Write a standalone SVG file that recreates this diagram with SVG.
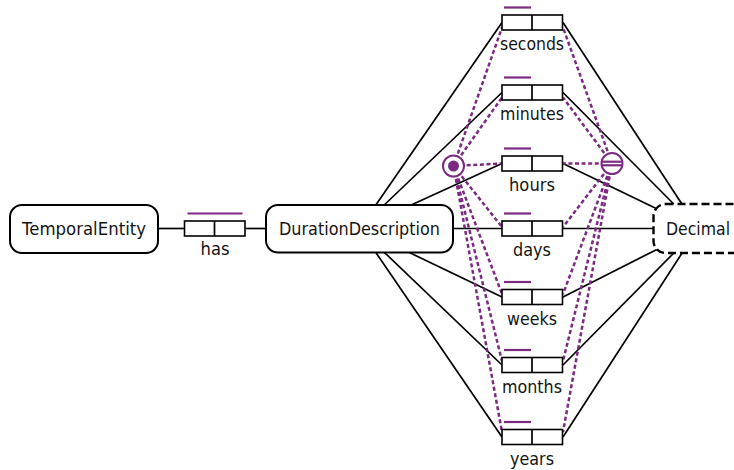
<svg xmlns="http://www.w3.org/2000/svg" width="734" height="470" viewBox="0 0 734 470">
  <style>
    .ent { fill: #fff; stroke: #000; stroke-width: 2; }
    .val { fill: #fff; stroke: #000; stroke-width: 2.4; stroke-dasharray: 8 4; }
    .role { fill: #fff; stroke: #000; stroke-width: 1.6; }
    .link { stroke: #000; stroke-width: 1.7; fill: none; }
    .cons { stroke: #7b2a82; stroke-width: 2.5; stroke-dasharray: 4 2.6; fill: none; }
    .bar { stroke: #7b2a82; stroke-width: 2.2; }
    .ring { fill: #fff; stroke: #7b2a82; stroke-width: 2; }
    .lbl { font-family: "DejaVu Sans", "Liberation Sans", sans-serif; font-size: 18px; fill: #141414; text-anchor: middle; }
  </style>
  <defs>
    <!-- binary fact type: two role boxes with a divider -->
    <g id="roles">
      <rect class="role" x="0" y="0" width="60.5" height="15"/>
      <line class="link" x1="30" y1="0" x2="30" y2="15"/>
    </g>
  </defs>

  <!-- connectors -->
  <g id="connectors">
    <!-- entity links -->
    <line class="link" x1="158" y1="228.5" x2="184.5" y2="228.5"/>
    <line class="link" x1="245.5" y1="228.5" x2="266" y2="228.5"/>
    <!-- DurationDescription to each role -->
    <line class="link" x1="375.8" y1="205" x2="502" y2="22.5"/>
    <line class="link" x1="384.2" y1="205" x2="502" y2="92.5"/>
    <line class="link" x1="411.2" y1="205" x2="502" y2="163.5"/>
    <line class="link" x1="452.7" y1="228.5" x2="502" y2="228.5"/>
    <line class="link" x1="408.9" y1="252.3" x2="502" y2="297"/>
    <line class="link" x1="384.3" y1="252.3" x2="502" y2="365"/>
    <line class="link" x1="375.7" y1="252.3" x2="502" y2="437"/>
    <!-- roles to Decimal -->
    <line class="link" x1="563" y1="22.5" x2="681.9" y2="204"/>
    <line class="link" x1="563" y1="92.5" x2="673.7" y2="204"/>
    <line class="link" x1="563" y1="163.5" x2="656.2" y2="208.4"/>
    <line class="link" x1="563" y1="228.5" x2="653.5" y2="228.5"/>
    <line class="link" x1="563" y1="297" x2="656.9" y2="249.4"/>
    <line class="link" x1="563" y1="365" x2="673.8" y2="253"/>
    <line class="link" x1="563" y1="437" x2="682.1" y2="253"/>
    <!-- inclusive-or constraint -->
    <line class="cons" x1="453.5" y1="166" x2="502" y2="27.5"/>
    <line class="cons" x1="453.5" y1="166" x2="502" y2="97.5"/>
    <line class="cons" x1="453.5" y1="166" x2="502" y2="163.5"/>
    <line class="cons" x1="453.5" y1="166" x2="502" y2="227"/>
    <line class="cons" x1="453.5" y1="166" x2="502" y2="294"/>
    <line class="cons" x1="453.5" y1="166" x2="502" y2="361"/>
    <line class="cons" x1="453.5" y1="166" x2="502" y2="432"/>
    <!-- equality constraint -->
    <line class="cons" x1="612" y1="163.5" x2="563" y2="27.5"/>
    <line class="cons" x1="612" y1="163.5" x2="563" y2="97.5"/>
    <line class="cons" x1="612" y1="163.5" x2="563" y2="163.5"/>
    <line class="cons" x1="612" y1="163.5" x2="563" y2="227"/>
    <line class="cons" x1="612" y1="163.5" x2="563" y2="294"/>
    <line class="cons" x1="612" y1="163.5" x2="563" y2="361"/>
    <line class="cons" x1="612" y1="163.5" x2="563" y2="432"/>
  </g>

  <!-- entity types -->
  <g id="TemporalEntity">
    <rect class="ent" x="10" y="205" width="148" height="48" rx="12"/>
    <text class="lbl" x="84" y="235" textLength="124" lengthAdjust="spacingAndGlyphs">TemporalEntity</text>
  </g>
  <g id="DurationDescription">
    <rect class="ent" x="266" y="205" width="187" height="47.5" rx="12"/>
    <text class="lbl" x="359.5" y="235" textLength="161" lengthAdjust="spacingAndGlyphs">DurationDescription</text>
  </g>
  <g id="Decimal">
    <rect class="val" x="653.5" y="204" width="100" height="49" rx="12"/>
    <text class="lbl" x="698" y="235" textLength="64" lengthAdjust="spacingAndGlyphs">Decimal</text>
  </g>

  <!-- fact types -->
  <g id="has">
    <use href="#roles" x="184.5" y="221"/>
    <line class="bar" x1="187.5" y1="213.5" x2="242.5" y2="213.5"/>
    <text class="lbl" x="215" y="255" textLength="29" lengthAdjust="spacingAndGlyphs">has</text>
  </g>
  <g id="seconds">
    <use href="#roles" x="502" y="15"/>
    <line class="bar" x1="504" y1="7.5" x2="531" y2="7.5"/>
    <text class="lbl" x="532" y="50" textLength="64" lengthAdjust="spacingAndGlyphs">seconds</text>
  </g>
  <g id="minutes">
    <use href="#roles" x="502" y="85"/>
    <line class="bar" x1="504" y1="77.5" x2="531" y2="77.5"/>
    <text class="lbl" x="532" y="120" textLength="64" lengthAdjust="spacingAndGlyphs">minutes</text>
  </g>
  <g id="hours">
    <use href="#roles" x="502" y="156"/>
    <line class="bar" x1="504" y1="148.5" x2="531" y2="148.5"/>
    <text class="lbl" x="532" y="191" textLength="46" lengthAdjust="spacingAndGlyphs">hours</text>
  </g>
  <g id="days">
    <use href="#roles" x="502" y="221"/>
    <line class="bar" x1="504" y1="213.5" x2="531" y2="213.5"/>
    <text class="lbl" x="532" y="256" textLength="38" lengthAdjust="spacingAndGlyphs">days</text>
  </g>
  <g id="weeks">
    <use href="#roles" x="502" y="289.5"/>
    <line class="bar" x1="504" y1="282" x2="531" y2="282"/>
    <text class="lbl" x="532" y="324.5" textLength="50" lengthAdjust="spacingAndGlyphs">weeks</text>
  </g>
  <g id="months">
    <use href="#roles" x="502" y="357.5"/>
    <line class="bar" x1="504" y1="350" x2="531" y2="350"/>
    <text class="lbl" x="532" y="392.5" textLength="60" lengthAdjust="spacingAndGlyphs">months</text>
  </g>
  <g id="years">
    <use href="#roles" x="502" y="429.5"/>
    <line class="bar" x1="504" y1="422" x2="531" y2="422"/>
    <text class="lbl" x="532" y="464.5" textLength="44" lengthAdjust="spacingAndGlyphs">years</text>
  </g>

  <!-- constraints -->
  <g id="inclusiveOr">
    <circle class="ring" cx="453.5" cy="166" r="10.5"/>
    <circle cx="453.5" cy="166" r="5.5" fill="#7b2a82"/>
  </g>
  <g id="equality">
    <circle class="ring" cx="612" cy="163.5" r="10.5"/>
    <line class="bar" stroke-width="1.5" x1="601.8" y1="161.7" x2="622.2" y2="161.7"/>
    <line class="bar" stroke-width="1.5" x1="601.8" y1="165.3" x2="622.2" y2="165.3"/>
  </g>
</svg>
